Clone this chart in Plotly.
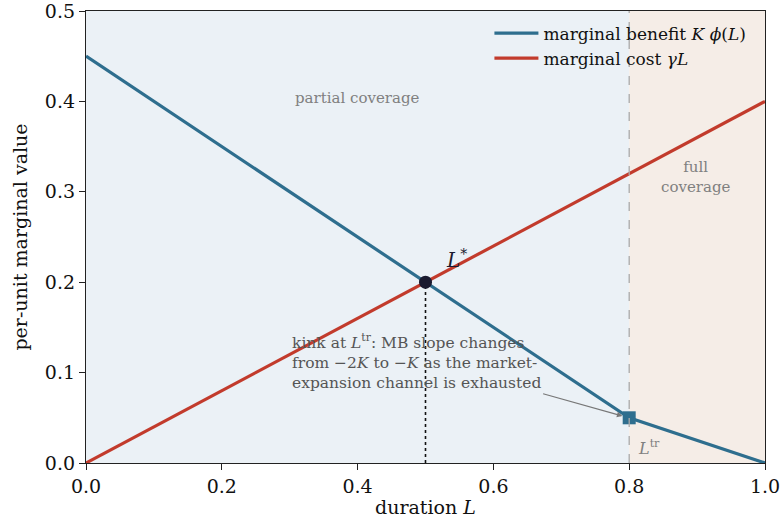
import plotly.graph_objects as go

# data
L_mb = [0.0, 0.8, 1.0]
mb_vals = [0.45, 0.05, 0.0]
L_mc = [0.0, 1.0]
mc_vals = [0.0, 0.4]
L_star = 0.5
v_star = 0.2
L_tr = 0.8
v_tr = 0.05
x_ticks = [0.0, 0.2, 0.4, 0.6, 0.8, 1.0]
y_ticks = [0.0, 0.1, 0.2, 0.3, 0.4, 0.5]

BLUE = "#2e6e8e"
RED = "#c23b2c"
FONT = "DejaVu Serif"

fig = go.Figure()

fig.add_trace(go.Scatter(x=L_mb, y=mb_vals, mode="lines",
                         line=dict(color=BLUE, width=3.2),
                         name="marginal benefit <i>K ϕ</i>(<i>L</i>)"))
fig.add_trace(go.Scatter(x=L_mc, y=mc_vals, mode="lines",
                         line=dict(color=RED, width=3.2),
                         name="marginal cost <i>γL</i>"))
fig.add_trace(go.Scatter(x=[L_star, L_star], y=[0, v_star], mode="lines",
                         line=dict(color="#111111", width=1.6, dash="dot"),
                         showlegend=False))
fig.add_trace(go.Scatter(x=[L_star], y=[v_star], mode="markers",
                         marker=dict(color="#1b1b30", size=13, symbol="circle"),
                         showlegend=False))
fig.add_trace(go.Scatter(x=[L_tr], y=[v_tr], mode="markers",
                         marker=dict(color=BLUE, size=13, symbol="square"),
                         showlegend=False))

# shaded regions
fig.add_vrect(x0=0, x1=L_tr, fillcolor="#ebf1f6", opacity=1, line_width=0, layer="below")
fig.add_vrect(x0=L_tr, x1=1.0, fillcolor="#f5ede7", opacity=1, line_width=0, layer="below")
fig.add_vline(x=L_tr, line=dict(color="#aaaaaa", width=1.3, dash="dash"))

GRAY = "#808080"
fig.add_annotation(x=0.40, y=0.404, text="partial coverage", showarrow=False,
                   font=dict(family=FONT, size=15, color=GRAY))
fig.add_annotation(x=0.898, y=0.316, text="full<br>coverage", showarrow=False,
                   font=dict(family=FONT, size=15, color=GRAY))
fig.add_annotation(x=0.545, y=0.226, text="<i>L</i><sup>*</sup>", showarrow=False,
                   font=dict(family=FONT, size=20, color="#1b1b30"))
fig.add_annotation(x=0.81, y=0.017, text="<i>L</i><sup>tr</sup>", showarrow=False,
                   xanchor="left",
                   font=dict(family=FONT, size=16, color=GRAY))
fig.add_annotation(x=L_tr - 0.01, y=v_tr + 0.002, ax=0.671, ay=0.077,
                   xref="x", yref="y", axref="x", ayref="y",
                   text="", showarrow=True, arrowhead=2, arrowsize=1, arrowwidth=1.1,
                   arrowcolor="#777777")
fig.add_annotation(x=0.3, y=0.148, yanchor="top", xanchor="left", align="left",
                   text="kink at <i>L</i><sup>tr</sup>: MB slope changes<br>"
                        "from −2<i>K</i> to −<i>K</i> as the market-<br>"
                        "expansion channel is exhausted",
                   showarrow=False,
                   font=dict(family=FONT, size=15.5, color="#555555"))

axis_common = dict(showline=True, linecolor="#222222", linewidth=1.3, mirror=True,
                   ticks="outside", ticklen=6, tickwidth=1.2, tickcolor="#222222",
                   showgrid=False, zeroline=False, automargin=False,
                   ticklabeloverflow="allow",
                   tickfont=dict(family=FONT, size=19, color="#111111"))

fig.update_xaxes(range=[0, 1.0], tickvals=x_ticks, ticktext=[f"{v:.1f}" for v in x_ticks],
                 title=dict(text="duration <i>L</i>", font=dict(family=FONT, size=19, color="#111111"),
                            standoff=4),
                 **axis_common)
fig.update_yaxes(range=[0, 0.5], tickvals=y_ticks, ticktext=[f"{v:.1f}" for v in y_ticks],
                 title=dict(text="per-unit marginal value", font=dict(family=FONT, size=19, color="#111111"),
                            standoff=12),
                 **axis_common)

fig.update_layout(width=781, height=530,
                  margin=dict(l=86, r=16, t=11, b=67),
                  plot_bgcolor="white", paper_bgcolor="white",
                  font=dict(family=FONT),
                  legend=dict(x=0.98, y=0.99, xanchor="right", yanchor="top",
                              bgcolor="rgba(0,0,0,0)", borderwidth=0,
                              font=dict(family=FONT, size=17, color="#111111"),
                              itemwidth=44, tracegroupgap=2))

fig.write_html("out.html")
